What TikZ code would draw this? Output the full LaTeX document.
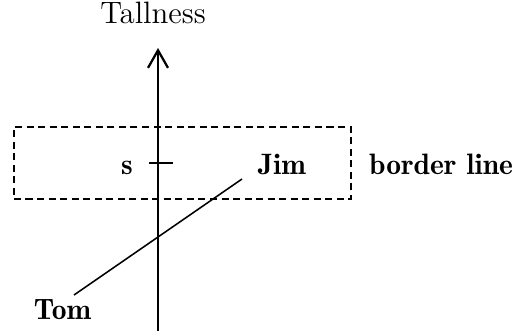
\documentclass[tikz,border=0pt]{standalone}
\usepackage{tikz}
\usetikzlibrary{arrows.meta, positioning}

\begin{document}
\begin{tikzpicture}[
    x=0.0125cm, y=-0.0125cm,
    axis/.style={-{Straight Barb[length=2.2mm, width=2.5mm]}, line width=0.8pt},
    zone/.style={rectangle, draw, dash pattern=on 2.5pt off 1.6pt, line width=0.45pt,
                 minimum width=4.2125cm, minimum height=0.9cm, inner sep=0pt},
    lbl/.style={font=\fontsize{10.5}{12}\fontseries{b}\selectfont, inner sep=0pt, anchor=base},
    link/.style={line width=0.55pt}
]
\useasboundingbox (0,0) rectangle (516,331);

\coordinate (base) at (158,331);
\coordinate (top) at (158,48);
\node[font=\fontsize{11}{13}\selectfont, inner sep=0pt, anchor=base] (tall) at (153,24) {Tallness};

\node[zone] (zone) at (182.5,163) {};
\node[lbl] (s) at (127,174) {s};
\node[lbl] (jim) at (282,174) {Jim};
\node[lbl] (border) at (441,174) {border line};
\node[lbl] (tom) at (62.5,319) {Tom};

\coordinate (tickl) at (149,163);
\coordinate (tickr) at (173,163);
\coordinate (jimend) at (242,179);
\coordinate (tomend) at (74,295);

\draw[axis] (base) -- (top);
\draw[link] (tickl) -- (tickr);
\draw[link] (tomend) -- (jimend);

\end{tikzpicture}
\end{document}
